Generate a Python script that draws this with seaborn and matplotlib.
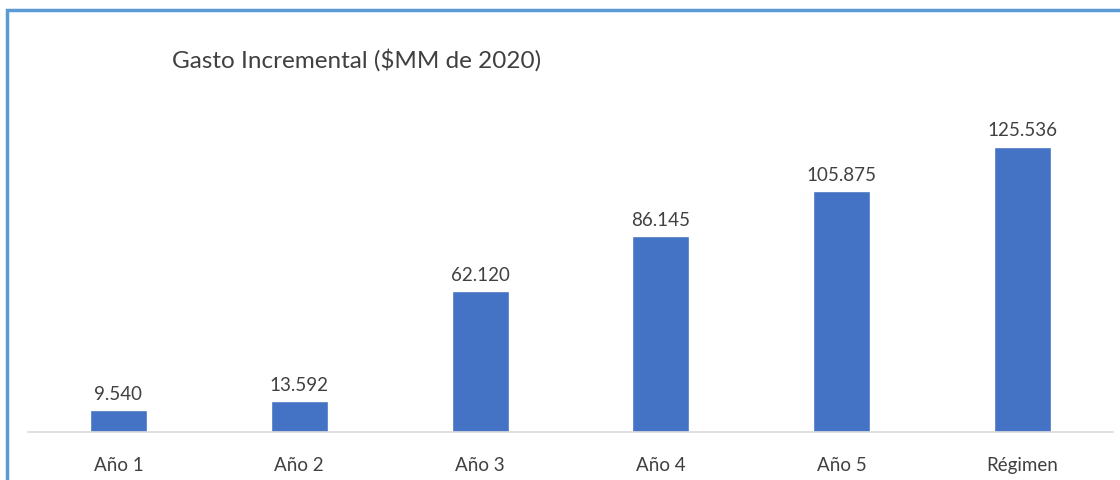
import matplotlib
matplotlib.use("Agg")
import matplotlib.pyplot as plt
import pandas as pd
import seaborn as sns
from matplotlib.patches import Rectangle

# Data
categorias = ["Año 1", "Año 2", "Año 3", "Año 4", "Año 5", "Régimen"]
gasto = [9.540, 13.592, 62.120, 86.145, 105.875, 125.536]
etiquetas = ["9.540", "13.592", "62.120", "86.145", "105.875", "125.536"]

df = pd.DataFrame({"categoria": categorias, "gasto": gasto})

sns.set_style("white")
plt.rcParams["font.family"] = ["Lato", "DejaVu Sans"]

fig = plt.figure(figsize=(11.2, 4.81), dpi=100)
ax = fig.add_axes([0.025, 1 - 433 / 481, 0.9687, 393 / 481])

sns.barplot(data=df, x="categoria", y="gasto", color="#4472C4",
            width=0.315, saturation=1, ax=ax)

# Value labels above bars
for i, (v, lab) in enumerate(zip(gasto, etiquetas)):
    ax.annotate(lab, (i, v), xytext=(0, 6), textcoords="offset points",
                ha="center", va="bottom", fontsize=13.5, color="#404040")

ax.set_xlim(-0.5, 5.5)
ax.set_ylim(0, 173)
ax.set_xlabel("")
ax.set_ylabel("")
ax.set_yticks([])
for s in ["top", "right", "left"]:
    ax.spines[s].set_visible(False)
ax.spines["bottom"].set_color("#D9D9D9")
ax.spines["bottom"].set_linewidth(1.2)
ax.tick_params(axis="x", length=0, pad=17, labelsize=13.5, labelcolor="#404040")

fig.text(172 / 1120, 1 - 60 / 481, "Gasto Incremental ($MM de 2020)",
         fontsize=17.5, color="#404040", ha="left", va="center")

# Chart frame (light blue border, open past the right/bottom edges)
fig.add_artist(Rectangle((7 / 1120, -0.1), 1.2, 1 - 11 / 481 + 0.1,
                         transform=fig.transFigure, fill=False,
                         edgecolor="#5B9BD5", linewidth=2.5))

fig.savefig("out.png", dpi=100)
